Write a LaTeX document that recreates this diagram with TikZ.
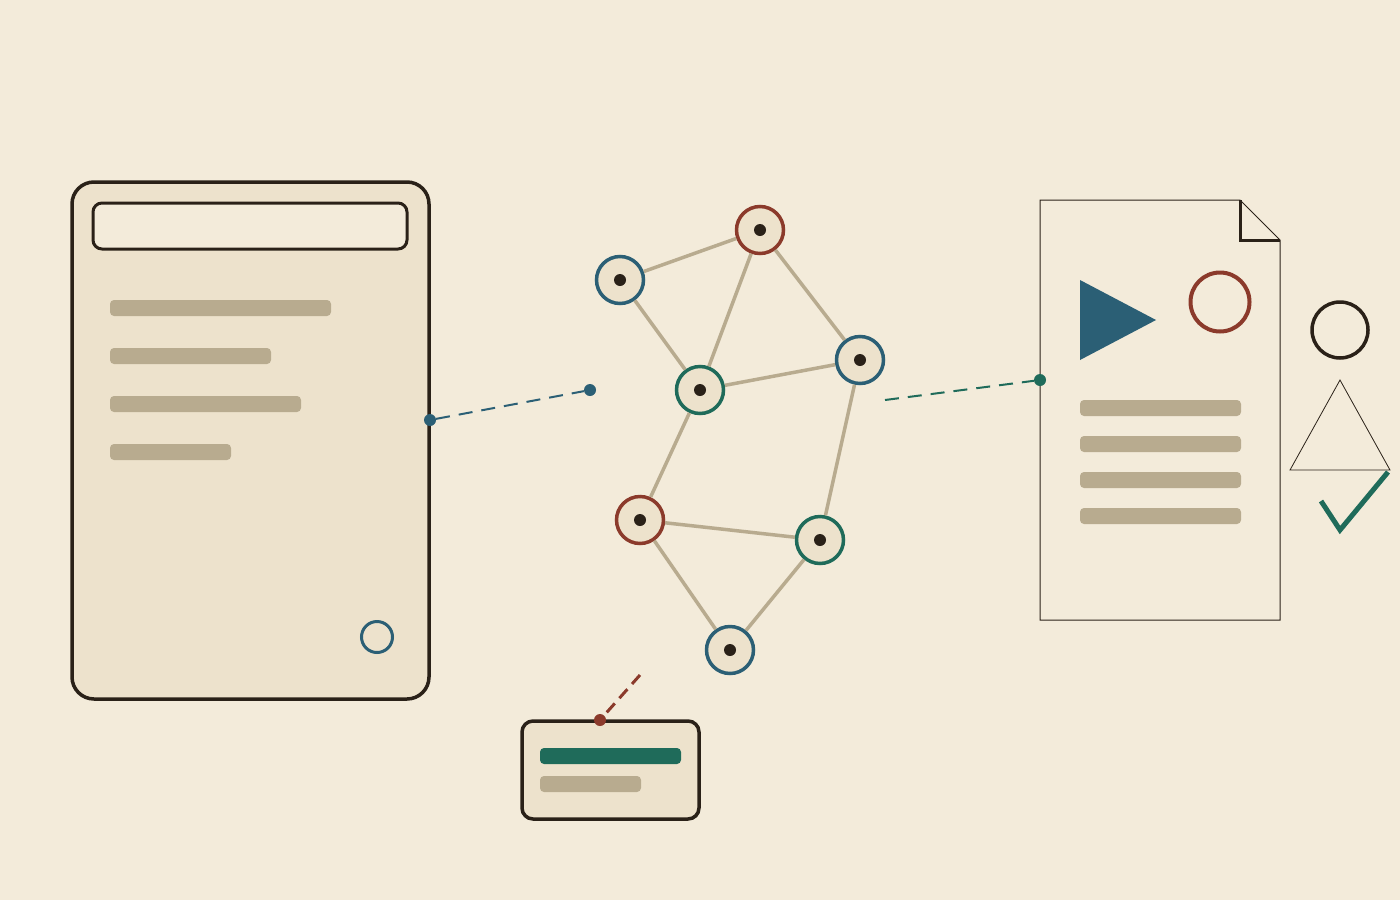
\documentclass[tikz,border=0pt]{standalone}
\usepackage{tikz}
\definecolor{paper}{HTML}{F3EBDA}
\definecolor{panel}{HTML}{EDE2CC}
\definecolor{ink}{HTML}{2A2118}
\definecolor{tan}{HTML}{B8AB8F}
\definecolor{teal}{HTML}{2B5F75}
\definecolor{rust}{HTML}{8B3A2B}
\definecolor{pine}{HTML}{1F6B5A}
\tikzstyle{vertex}=[circle,fill=panel,line width=3.5pt,minimum size=47pt,inner sep=0pt,path picture={\fill[ink] (path picture bounding box.center) circle (6pt);}]
\tikzstyle{bluev}=[vertex,draw=teal]
\tikzstyle{redv}=[vertex,draw=rust]
\tikzstyle{greenv}=[vertex,draw=pine]
\tikzstyle{edge}=[tan,line width=3.5pt]
\tikzstyle{bar}=[fill=tan,rounded corners=4pt]
\tikzstyle{pin}=[circle,minimum size=12pt,inner sep=0pt]
\tikzstyle{link}=[line width=2pt,dash pattern=on 14pt off 9pt]

\begin{document}
\begin{tikzpicture}[x=1pt,y=-1pt]
\fill[paper] (0,0) rectangle (1400,900);
\useasboundingbox (0,0) rectangle (1400,900);

\draw[ink,fill=panel,line width=3.5pt,rounded corners=22pt] (72,182) rectangle (429,699);
\draw[ink,fill=paper,line width=3pt,rounded corners=9pt] (93,203) rectangle (407,249);
\fill[bar] (110,300) rectangle (331,316);
\fill[bar] (110,348) rectangle (271,364);
\fill[bar] (110,396) rectangle (301,412);
\fill[bar] (110,444) rectangle (231,460);
\draw[teal,line width=3pt] (377,637) circle (15.5pt);

\node[bluev] (n1) at (620,280) {};
\node[redv] (n2) at (760,230) {};
\node[bluev] (n3) at (860,360) {};
\node[greenv] (n4) at (700,390) {};
\node[redv] (n5) at (640,520) {};
\node[greenv] (n6) at (820,540) {};
\node[bluev] (n7) at (730,650) {};

\draw[edge] (n1) -- (n2);
\draw[edge] (n1) -- (n4);
\draw[edge] (n2) -- (n4);
\draw[edge] (n2) -- (n3);
\draw[edge] (n4) -- (n3);
\draw[edge] (n4) -- (n5);
\draw[edge] (n3) -- (n6);
\draw[edge] (n5) -- (n6);
\draw[edge] (n5) -- (n7);
\draw[edge] (n6) -- (n7);

\draw[ink,fill=paper,line width=1pt] (1040,200) -- (1240,200) -- (1280,240) -- (1280,620) -- (1040,620) -- cycle;
\draw[ink,line width=3pt] (1240,200) -- (1240,240) -- (1280,240);
\fill[teal] (1080,280) -- (1156,320) -- (1080,360) -- cycle;
\draw[rust,line width=4pt] (1220,302) circle (29.5pt);
\fill[bar] (1080,400) rectangle (1241,416);
\fill[bar] (1080,436) rectangle (1241,452);
\fill[bar] (1080,472) rectangle (1241,488);
\fill[bar] (1080,508) rectangle (1241,524);

\draw[ink,line width=3.5pt] (1340,330) circle (28pt);
\draw[ink,line width=0.8pt] (1340,380) -- (1390,470) -- (1290,470) -- cycle;
\draw[pine,line width=5pt] (1321,501) -- (1340,530) -- (1388,472);

\draw[ink,fill=panel,line width=3.5pt,rounded corners=11pt] (522,721) rectangle (699,819);
\fill[bar,fill=pine] (540,748) rectangle (681,764);
\fill[bar] (540,776) rectangle (641,792);

\node[pin,fill=teal] (d1) at (430,420) {};
\node[pin,fill=teal] (d2) at (590,390) {};
\draw[link,teal] (d1) -- (d2);
\coordinate (c1) at (885,400);
\node[pin,fill=pine] (d3) at (1040,380) {};
\draw[link,pine] (c1) -- (d3);
\node[pin,fill=rust] (d4) at (600,720) {};
\coordinate (c2) at (640,675);
\draw[link,rust,line width=3pt,dash pattern=on 12pt off 7pt] (c2) -- (d4);

\end{tikzpicture}
\end{document}
